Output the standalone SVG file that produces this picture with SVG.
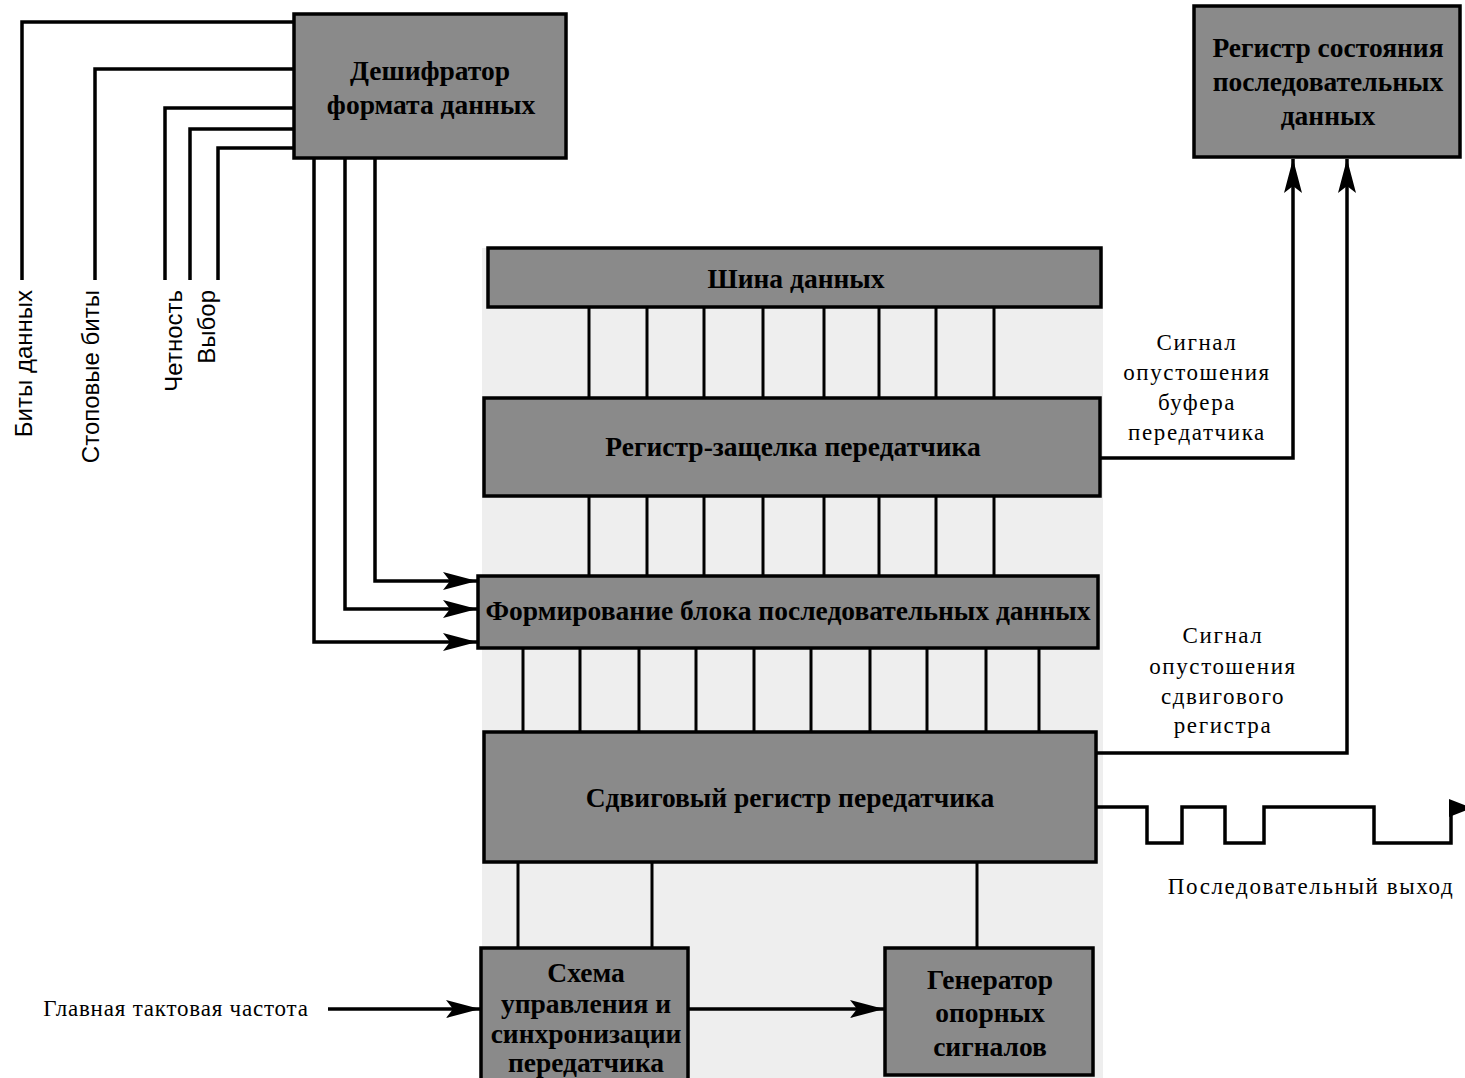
<svg xmlns="http://www.w3.org/2000/svg" width="1465" height="1078" viewBox="0 0 1465 1078">
<style>
.box{fill:#8a8a8a;stroke:#000;stroke-width:3.5}
.bt{font-family:"Liberation Serif","Times New Roman",serif;font-weight:bold;font-size:27.5px;fill:#000;text-anchor:middle}
.lbl{font-family:"Liberation Serif","Times New Roman",serif;font-size:23px;fill:#000;text-anchor:middle;letter-spacing:1.6px}
.rot{font-family:"Liberation Sans",Arial,sans-serif;font-size:24px;fill:#000;text-anchor:end}
.w{fill:none;stroke:#000;stroke-width:3.5}
.bus{fill:none;stroke:#000;stroke-width:3}
</style>
<defs>
<marker id="ah" viewBox="0 0 34 18" refX="34" refY="9" markerWidth="34" markerHeight="18" markerUnits="userSpaceOnUse" orient="auto">
<path d="M0,0 L34,9 L0,18 L7,9 z" fill="#000"/>
</marker>
</defs>
<rect x="0" y="0" width="1465" height="1078" fill="#fff"/>
<rect x="482" y="248" width="621" height="830" fill="#eeeeee"/>

<g id="connectors">
<path class="w" d="M22,280 V22 H294"/>
<path class="w" d="M95,280 V69 H294"/>
<path class="w" d="M165,280 V108 H294"/>
<path class="w" d="M190,280 V129 H294"/>
<path class="w" d="M218,280 V148 H294"/>
<path class="w" d="M314,158 V642 H477" marker-end="url(#ah)"/>
<path class="w" d="M345,158 V609 H477" marker-end="url(#ah)"/>
<path class="w" d="M375,158 V581 H477" marker-end="url(#ah)"/>
<path class="w" d="M1100,458 H1293 V159" marker-end="url(#ah)"/>
<path class="w" d="M1096,753 H1347 V159" marker-end="url(#ah)"/>
<path class="w" d="M1096,807 H1147 V843 H1182 V807 H1225 V843 H1264 V807 H1374 V843 H1451 V807"/>
<path d="M1449,799 L1472,808 L1449,817 z" fill="#000"/>
<path class="w" d="M328,1009 H480" marker-end="url(#ah)"/>
<path class="w" d="M688,1009 H884" marker-end="url(#ah)"/>
<g class="bus">
<path d="M589,307 V398 M647,307 V398 M704,307 V398 M763,307 V398 M824,307 V398 M879,307 V398 M936,307 V398 M994,307 V398"/>
<path d="M589,496 V576 M647,496 V576 M704,496 V576 M763,496 V576 M824,496 V576 M879,496 V576 M936,496 V576 M994,496 V576"/>
<path d="M523,648 V732 M580,648 V732 M639,648 V732 M696,648 V732 M754,648 V732 M811,648 V732 M870,648 V732 M927,648 V732 M986,648 V732 M1039,648 V732"/>
<path d="M518,862 V948 M652,862 V948 M977,862 V948"/>
</g>
</g>

<g id="decoder">
<rect class="box" x="294" y="14" width="272" height="144"/>
<text class="bt" x="430" y="80">Дешифратор</text>
<text class="bt" x="431" y="114">формата данных</text>
</g>
<g id="status">
<rect class="box" x="1194" y="6" width="266" height="151"/>
<text class="bt" x="1328" y="57">Регистр состояния</text>
<text class="bt" x="1328" y="91">последовательных</text>
<text class="bt" x="1328" y="125">данных</text>
</g>
<g id="bus">
<rect class="box" x="488" y="248" width="613" height="59"/>
<text class="bt" x="796" y="288">Шина данных</text>
</g>
<g id="latch">
<rect class="box" x="484" y="398" width="616" height="98"/>
<text class="bt" x="793" y="456">Регистр-защелка передатчика</text>
</g>
<g id="framing">
<rect class="box" x="478" y="576" width="620" height="72"/>
<text class="bt" x="788" y="620">Формирование блока последовательных данных</text>
</g>
<g id="shift">
<rect class="box" x="484" y="732" width="612" height="130"/>
<text class="bt" x="790" y="807">Сдвиговый регистр передатчика</text>
</g>
<g id="control">
<rect class="box" x="481" y="948" width="207" height="135"/>
<text class="bt" x="586" y="982">Схема</text>
<text class="bt" x="586" y="1013">управления и</text>
<text class="bt" x="586" y="1043">синхронизации</text>
<text class="bt" x="586" y="1072">передатчика</text>
</g>
<g id="generator">
<rect class="box" x="885" y="948" width="208" height="127"/>
<text class="bt" x="990" y="989">Генератор</text>
<text class="bt" x="990" y="1022">опорных</text>
<text class="bt" x="990" y="1056">сигналов</text>
</g>

<g id="labels">
<text class="rot" transform="translate(32,290) rotate(-90)">Биты данных</text>
<text class="rot" transform="translate(99,290) rotate(-90)">Стоповые биты</text>
<text class="rot" transform="translate(182,290) rotate(-90)">Четность</text>
<text class="rot" transform="translate(215,290) rotate(-90)">Выбор</text>
<text class="lbl" x="1197" y="350">Сигнал</text>
<text class="lbl" x="1197" y="380">опустошения</text>
<text class="lbl" x="1197" y="410">буфера</text>
<text class="lbl" x="1197" y="440">передатчика</text>
<text class="lbl" x="1223" y="643">Сигнал</text>
<text class="lbl" x="1223" y="674">опустошения</text>
<text class="lbl" x="1223" y="704">сдвигового</text>
<text class="lbl" x="1223" y="733">регистра</text>
<text class="lbl" x="1311" y="894">Последовательный выход</text>
<text class="lbl" x="176" y="1016" style="letter-spacing:0.8px">Главная тактовая частота</text>
</g>
</svg>
